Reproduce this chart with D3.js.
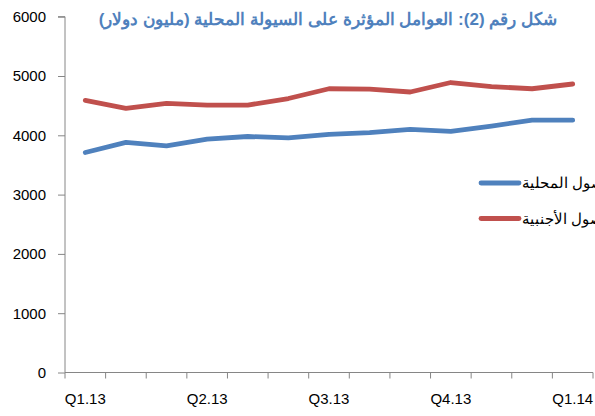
<!DOCTYPE html>
<html><head><meta charset="utf-8">
<script src="https://cdn.jsdelivr.net/npm/d3@7"></script>
<style>body{margin:0;background:#fff}svg{display:block}</style>
</head><body>
<svg id="c" width="595" height="416"></svg>
<script>
const categories = ["Q1.13","m2","m3","Q2.13","m5","m6","Q3.13","m8","m9","Q4.13","m11","m12","Q1.14"];
const tickLabels = {"Q1.13":"Q1.13","Q2.13":"Q2.13","Q3.13":"Q3.13","Q4.13":"Q4.13","Q1.14":"Q1.14"};
const localAssets = [3710,3880,3820,3935,3980,3955,4015,4045,4100,4065,4155,4255,4255];
const foreignAssets = [4590,4455,4540,4510,4510,4620,4785,4780,4730,4890,4820,4785,4865];
const yTicks = [0,1000,2000,3000,4000,5000,6000];
const seriesNames = ["الأصول المحلية","الأصول الأجنبية"];
const colors = ["#4F81BD","#C0504D"];
const title = "شكل رقم (2):  العوامل المؤثرة على السيولة المحلية (مليون دولار)";

const svg = d3.select("#c");
const x = d3.scaleBand().domain(categories).range([65, 593]);
const y = d3.scaleLinear().domain([0,6000]).range([372.5, 16.7]);
const font = "'Liberation Sans', Arial, sans-serif";

// y axis
const ya = svg.append("g").attr("transform","translate(65,0)")
  .call(d3.axisLeft(y).tickValues(yTicks).tickSize(7).tickPadding(12).tickFormat(d3.format("d")));
ya.select(".domain").attr("stroke","#868686").attr("d","M-7,"+y(6000)+"H0V"+y(0));
ya.selectAll(".tick line").attr("stroke","#868686");
ya.selectAll("text").attr("font-family",font).attr("font-size",15).attr("fill","#000");

// x axis
const xa = svg.append("g").attr("transform","translate(0,372.5)")
  .call(d3.axisBottom(x).tickSize(0).tickFormat(d => tickLabels[d] || ""));
xa.select(".domain").attr("stroke","#868686").attr("d","M65,0H593");
xa.selectAll("text").attr("font-family",font).attr("font-size",15).attr("fill","#000").attr("dy","1.9em");
// category boundary ticks
const bounds = categories.map(c => x(c)).concat([x.range()[1]]);
svg.append("g").selectAll("line").data(bounds).join("line")
  .attr("x1",d=>d).attr("x2",d=>d).attr("y1",372.5).attr("y2",378.5)
  .attr("stroke","#868686");

// lines
const line = d3.line().x((d,i)=>x(categories[i])+x.bandwidth()/2).y(d=>y(d));
[localAssets, foreignAssets].forEach((s,k)=>{
  svg.append("path").datum(s).attr("d",line).attr("fill","none")
    .attr("stroke",colors[k]).attr("stroke-width",4.8)
    .attr("stroke-linejoin","round").attr("stroke-linecap","round");
});

// legend
const ly = [183, 218.5];
seriesNames.forEach((n,k)=>{
  svg.append("line").attr("x1",481).attr("x2",519).attr("y1",ly[k]).attr("y2",ly[k])
    .attr("stroke",colors[k]).attr("stroke-width",4.8).attr("stroke-linecap","round");
  svg.append("text").attr("x",522).attr("y",ly[k]+5).attr("direction","rtl")
    .attr("text-anchor","end").attr("font-family",font).attr("font-size",15).text(n);
});

// title
svg.append("text").attr("x",557).attr("y",25).attr("direction","rtl")
  .attr("text-anchor","start").attr("font-family",font).attr("font-weight","bold")
  .attr("font-size",17).attr("fill","#4F81BD").text(title);
</script>
</body></html>
